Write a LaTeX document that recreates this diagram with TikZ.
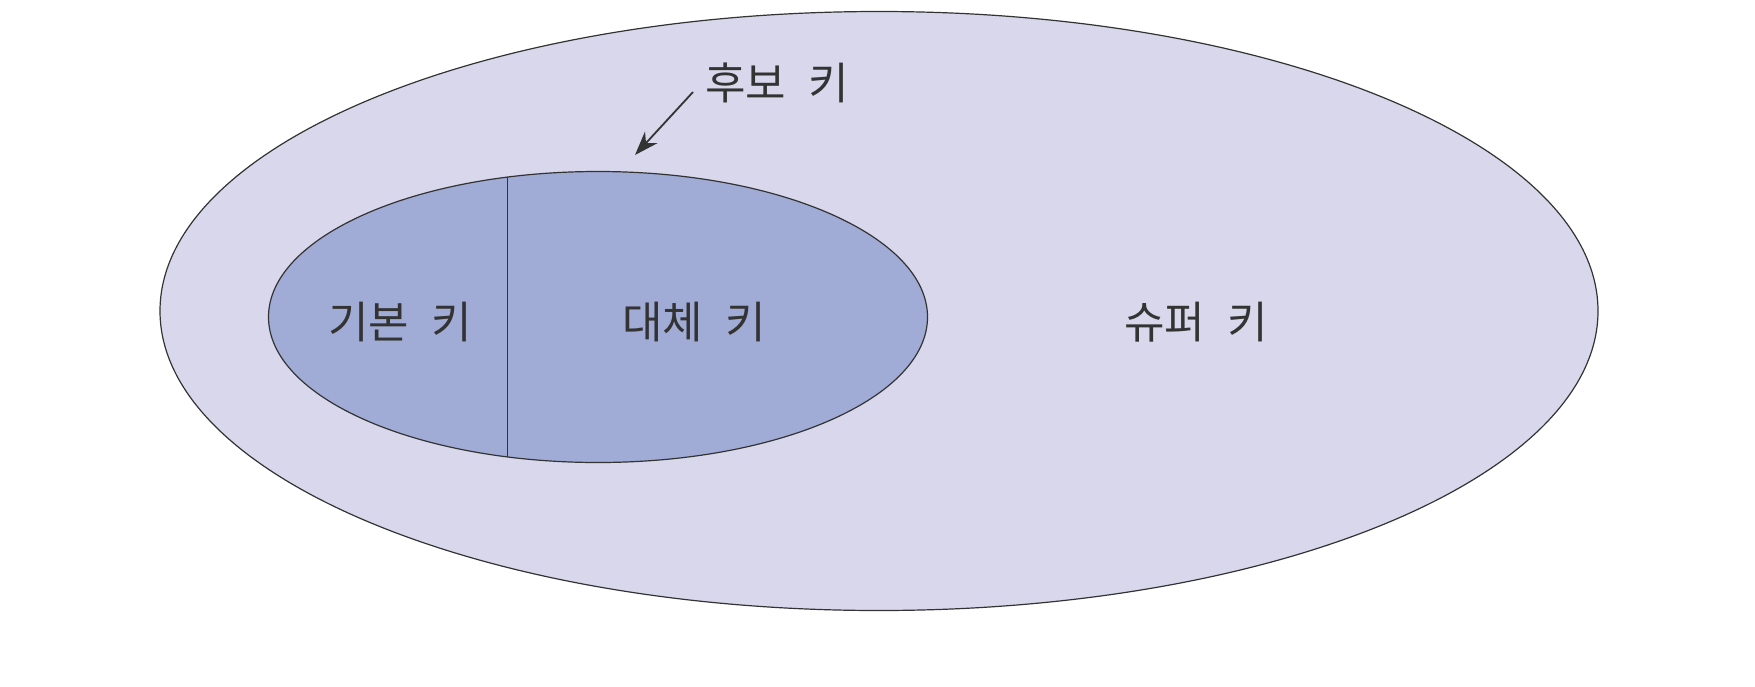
\documentclass[tikz,border=0pt]{standalone}
\usepackage{fontspec}
\newfontfamily\krfont{Noto Sans CJK KR}
\usetikzlibrary{arrows.meta,positioning,shapes.geometric}
\definecolor{superfill}{HTML}{D8D7EB}
\definecolor{candfill}{HTML}{A0ACD6}
\definecolor{keyline}{HTML}{333333}
\newcommand{\kgap}{\hspace{22pt}}
\tikzset{
  keyset/.style={ellipse,draw=keyline,line width=1.2pt,inner sep=0pt,outer sep=0pt},
  keylabel/.style={font=\krfont\fontsize{44}{52}\selectfont,text=keyline}
}

\begin{document}
\begin{tikzpicture}[x=1pt,y=-1pt]
  \useasboundingbox (0,0) rectangle (1755,686);
  % Super key set
  \node[keyset,fill=superfill,minimum width=1438pt,minimum height=599pt] (super) at (879,311) {};
  \node[keylabel] (superlbl) at (1196,322) {슈퍼\kgap 키};

  % Candidate keys: primary + alternate
  \node[keyset,fill=candfill,minimum width=659pt,minimum height=291pt] (cand) at (598,317) {};
  \draw[keyline,line width=1.2pt] (cand.123) -- (cand.237);
  \node[keylabel] (primlbl) at (400,322) {기본\kgap 키};
  \node[keylabel] (altlbl) at (694,322) {대체\kgap 키};

  % Candidate key label
  \node[keylabel] (candlbl) at (777,83) {후보\kgap 키};
  \coordinate (candtip) at (635,155);
  \draw[keyline,line width=1.8pt,-{Stealth[length=24pt,width=17pt]}] (693,92) -- (candtip);
\end{tikzpicture}
\end{document}
